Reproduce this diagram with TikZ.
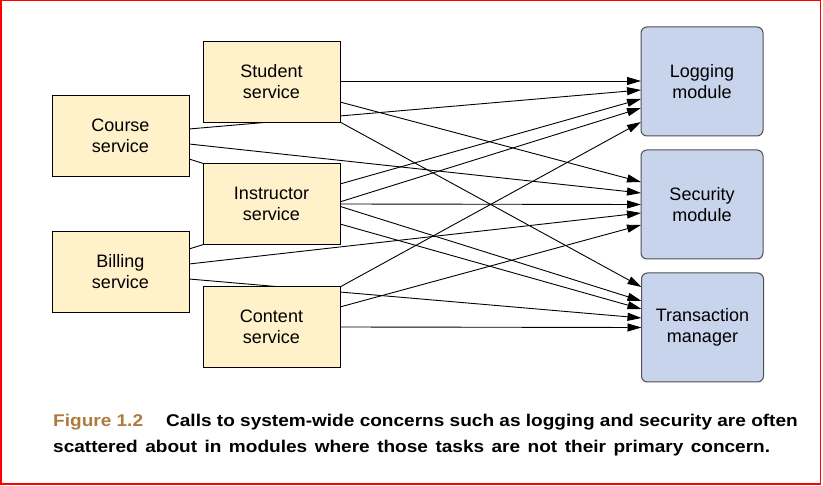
\documentclass[tikz,border=0pt]{standalone}
\usepackage{fontspec}
\setmainfont{Liberation Sans}
\newfontfamily\capfont[FakeStretch=1.12]{Liberation Sans}
\usetikzlibrary{arrows.meta,calc,backgrounds}
\definecolor{svcfill}{HTML}{FFF1CA}
\definecolor{modfill}{HTML}{C8D3EC}
\definecolor{modline}{HTML}{505050}
\definecolor{figcol}{HTML}{B07A3C}
\begin{document}
\begin{tikzpicture}[x=1pt,y=-1pt,
  svc/.style={draw=black,fill=svcfill,line width=0.9pt,minimum width=137pt,minimum height=81pt,
    inner sep=0pt,outer sep=0pt,align=center,font=\fontsize{18}{21}\selectfont},
  mod/.style={draw=modline,fill=modfill,line width=1pt,rounded corners=6pt,minimum width=122pt,
    minimum height=109pt,inner sep=0pt,outer sep=0pt,align=center,font=\fontsize{18}{21}\selectfont},
  conn/.style={draw=black,line width=0.9pt,-{Triangle[length=14pt,width=8pt]}},
  captxt/.style={anchor=base west,inner sep=0pt,font=\capfont\bfseries\fontsize{17}{20}\selectfont}]
\useasboundingbox (0,0) rectangle (823,486);
\draw[red,line width=1.5pt] (0.75,0.75) rectangle (820.5,484.2);

\node[svc] (student) at (271.5,81.5) {Student\\service};
\node[svc] (course) at (120.5,135.5) {Course\\service};
\node[svc] (instructor) at (271.5,204) {Instructor\\service};
\node[svc] (billing) at (120.5,272) {Billing\\service};
\node[svc] (content) at (271.5,327) {Content\\service};

\node[mod] (logging) at (702,81.5) {Logging\\module};
\node[mod] (security) at (702,204.5) {Security\\module};
\node[mod] (transaction) at (702.5,327.5) {Transaction\\manager};

\begin{pgfonlayer}{background}
% Student
\draw[conn] ($(student.east)+(0,-0.5)$) -- ($(logging.west)+(0,-0.5)$);
\draw[conn] ($(student.east)+(0,20.5)$) -- ($(security.west)+(0,-22.5)$);
\draw[conn] (student.south east) -- ($(transaction.west)+(0,-40.5)$);
% Course
\draw[conn] ($(course.east)+(0,-6.5)$) -- ($(logging.west)+(0,8.5)$);
\draw[conn] ($(course.east)+(0,8.5)$) -- ($(security.west)+(0,-11.5)$);
\draw[conn] ($(course.east)+(0,23.5)$) -- ($(transaction.west)+(0,-26.5)$);
% Instructor
\draw[conn] ($(instructor.east)+(0,-20)$) -- ($(logging.west)+(0,17.5)$);
\draw[conn] ($(instructor.east)+(0,0)$) -- ($(security.west)+(0,0)$);
\draw[conn] ($(instructor.east)+(0,20)$) -- ($(transaction.west)+(0,-18.5)$);
% Billing
\draw[conn] ($(billing.east)+(0,-23)$) -- ($(logging.west)+(0,26.5)$);
\draw[conn] ($(billing.east)+(0,-8)$) -- ($(security.west)+(0,8.5)$);
\draw[conn] ($(billing.east)+(0,7)$) -- ($(transaction.west)+(0,-9.5)$);
% Content
\draw[conn] ($(content.east)+(0,-40)$) -- ($(logging.west)+(0,40.5)$);
\draw[conn] ($(content.east)+(0,-20)$) -- ($(security.west)+(0,20.5)$);
\draw[conn] ($(content.east)+(0,0)$) -- ($(transaction.west)+(0,0)$);
\end{pgfonlayer}

\node[captxt] (cap1) at (53,427) {\textcolor{figcol}{Figure 1.2}\hspace{23pt}Calls to system-wide concerns such as logging and security are often};
\node[captxt] (cap2) at (53,453) {\makebox[717pt][s]{scattered about in modules where those tasks are not their primary concern.}};
\end{tikzpicture}
\end{document}
